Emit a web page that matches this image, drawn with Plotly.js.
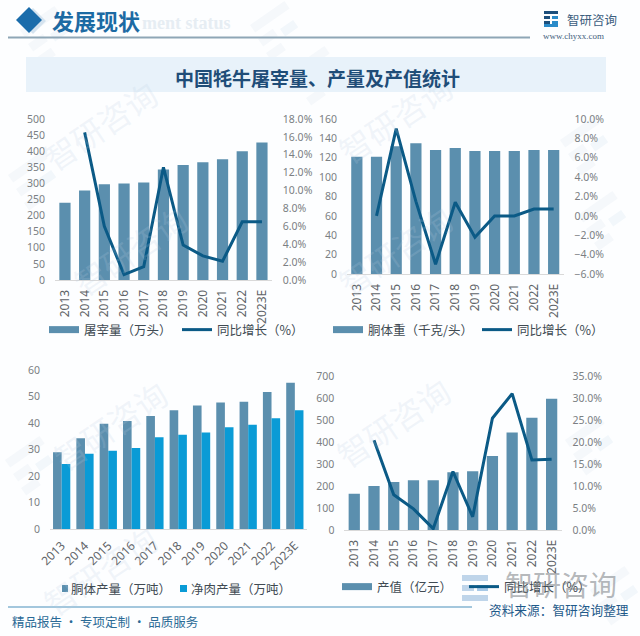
<!DOCTYPE html>
<html><head><meta charset="utf-8">
<script src="https://cdn.plot.ly/plotly-3.0.1.min.js"></script>
<style>html,body{margin:0;padding:0;background:#fff}#c{width:640px;height:636px}</style>
</head><body><div id="c"></div>
<script>
var years=['2013','2014','2015','2016','2017','2018','2019','2020','2021','2022','2023E'];
var slaughter=[240,278,297,300,303,343,357,366,375,400,427];
var slaughterGrowth=[null,16.5,6.0,0.6,1.5,12.6,3.9,2.7,2.1,6.5,6.5];
var carcassWeight=[121,121,132,135,128,130,127,127,127,128,128];
var weightGrowth=[null,0,9.0,1.5,-5.0,1.4,-2.2,0,0,0.7,0.7];
var carcassOutput=[29,34.2,39.7,40.8,42.6,44.8,46.6,47.7,48,51.7,55.2];
var netOutput=[24.5,28.4,29.5,30.6,34.6,35.6,36.4,38.4,39.3,41.8,44.8];
var outputValue=[165,200,218,226,226,263,267,336,443,510,597];
var valueGrowth=[null,20.4,8.0,4.8,0.3,13.3,3.0,25.4,31.0,15.9,16.1];

var W=640,H=636;
var BAR='#5b8fae',BAR2='#0a9bd6',LINE='#0b5a86',TXT='#7b7f83',LEG='#404a52';
var SANS='"Noto Sans CJK SC","Noto Sans",sans-serif';
var NUM='"Noto Sans","Noto Sans CJK SC",sans-serif';
function px(x){return x/W} function py(y){return 1-y/H}
function dom(a,b){return [px(a),px(b)]}
function vdom(top,bot){return [py(bot),py(top)]}

function xax(d,anchor,angle,extra){
  return Object.assign({domain:d,anchor:anchor,type:'category',categoryorder:'array',categoryarray:years,
    tickangle:angle,tickfont:{family:NUM,size:12,color:'#5f6468'},showgrid:false,zeroline:false,
    showline:true,linecolor:'#d9d9d9',linewidth:1,ticks:'',ticklabelstandoff:4,fixedrange:true},extra||{});
}
function yl(d,anchor,r,dt){
  return {domain:d,anchor:anchor,range:r,dtick:dt,tick0:0,showgrid:false,zeroline:false,showline:false,ticks:'',
    tickfont:{family:NUM,size:10.5,color:TXT},ticklabelstandoff:9,fixedrange:true};
}
function yr(over,anchor,r,dt){
  return {overlaying:over,anchor:anchor,side:'right',range:r,dtick:dt,tick0:r[0],showgrid:false,zeroline:false,showline:false,ticks:'',
    tickformat:'.1f',ticksuffix:'%',tickfont:{family:NUM,size:10.5,color:TXT},ticklabelstandoff:10,fixedrange:true};
}
function legendCfg(x,y,ew){
  return {x:px(x),y:py(y),xanchor:'left',yanchor:'middle',orientation:'h',bgcolor:'rgba(0,0,0,0)',
    font:{family:SANS,size:12.5,color:LEG},itemwidth:30,tracegroupgap:0,entrywidth:ew,entrywidthmode:'pixels',
    itemclick:false,itemdoubleclick:false};
}
function bar(name,vals,xa,ya,color,extra){
  return Object.assign({type:'bar',name:name,x:years,y:vals,xaxis:xa,yaxis:ya,marker:{color:color},showlegend:false},extra||{});
}
function barKey(name,xa,ya,leg,color){
  return {type:'scatter',mode:'lines',name:name,x:[null],y:[null],xaxis:xa,yaxis:ya,legend:leg,
    line:{color:color,width:7},hoverinfo:'skip'};
}
function growth(name,vals,xa,ya,leg){
  return {type:'scatter',mode:'lines',name:name,x:years,y:vals,xaxis:xa,yaxis:ya,legend:leg,
    line:{color:LINE,width:3},connectgaps:false};
}
var GROW='同比增长（%）';
var NAME_C='胴体产量（万吨）',NAME_N='净肉产量（万吨）';
var data=[
  bar('屠宰量（万头）',slaughter,'x','y',BAR),
  barKey('屠宰量（万头）','x','y','legend',BAR),
  growth(GROW,slaughterGrowth,'x','y2','legend'),
  bar('胴体重（千克/头）',carcassWeight,'x2','y3',BAR),
  barKey('胴体重（千克/头）','x2','y3','legend2',BAR),
  growth(GROW,weightGrowth,'x2','y4','legend2'),
  bar(NAME_C,carcassOutput,'x3','y5',BAR,{width:0.37,offset:-0.37}),
  bar(NAME_N,netOutput,'x3','y5',BAR2,{width:0.37,offset:0}),
  bar('产值（亿元）',outputValue,'x4','y6',BAR),
  barKey('产值（亿元）','x4','y6','legend4',BAR),
  growth(GROW,valueGrowth,'x4','y7','legend4')
];

function diamond(cx,cy,r,c){
  var p='M '+px(cx-r)+' '+py(cy)+' L '+px(cx)+' '+py(cy-r)+' L '+px(cx+r)+' '+py(cy)+' L '+px(cx)+' '+py(cy+r)+' Z';
  return {type:'path',xref:'paper',yref:'paper',path:p,fillcolor:c,line:{width:0},layer:'below'};
}
function logoBar(x,y,w,h,c){
  return {type:'rect',xref:'paper',yref:'paper',x0:px(x),x1:px(x+w),y0:py(y+h),y1:py(y),fillcolor:c,line:{width:0},layer:'below'};
}
function tiltedBar(cx,cy,len,th,c){
  var dx=len*0.82,dy=-len*0.57,nx=th*0.57,ny=th*0.82;
  var p='M '+px(cx)+' '+py(cy)+' L '+px(cx+dx)+' '+py(cy+dy)+' L '+px(cx+dx+nx)+' '+py(cy+dy+ny)+' L '+px(cx+nx)+' '+py(cy+ny)+' Z';
  return {type:'path',xref:'paper',yref:'paper',path:p,fillcolor:c,line:{width:0},layer:'below'};
}
function ghostLogo(x,y){
  var c='#f5f8fb';
  return [tiltedBar(x,y,42,9,c),tiltedBar(x+8,y+14,18,9,c),tiltedBar(x+16,y+28,18,9,c),tiltedBar(x+30,y+4,16,9,'#f2f7fb')];
}
var ghosts=[[8,175],[578,215],[5,460],[565,440],[590,590],[250,25],[20,30],[290,70],[560,140]];
var shapes=[];
ghosts.forEach(function(g){shapes=shapes.concat(ghostLogo(g[0],g[1]));});
shapes=shapes.concat([
  logoBar(26,57,580,35,'#e8f2fa'),
  {type:'line',xref:'paper',yref:'paper',x0:px(8),x1:px(530),y0:py(37.5),y1:py(37.5),line:{color:'#8ea6b6',width:2},layer:'below'},
  {type:'line',xref:'paper',yref:'paper',x0:px(8),x1:px(472),y0:py(607),y1:py(607),line:{color:'#4a90bb',width:1.2},layer:'below'},
  diamond(33,21,13,'#d5e3ef'),diamond(29,20,13,'#1a6cab'),
  logoBar(544,11,14,3,'#1c4f7c'),logoBar(544,16,6,3,'#1c4f7c'),logoBar(544,21,6,3,'#1c4f7c'),logoBar(552,16,6,3,'#2a8bc9'),logoBar(552,21,6,3,'#2a8bc9'),logoBar(544,24,14,3,'#2a8bc9'),
  logoBar(462,575,26,6,'rgba(150,185,220,.6)'),logoBar(462,585,12,6,'rgba(150,185,220,.6)'),logoBar(477,585,11,6,'rgba(110,165,215,.6)'),logoBar(462,595,26,6,'rgba(150,185,220,.6)'),
  logoBar(62,585,6,7,BAR),logoBar(180,585,7,7,BAR2)
]);
function note(text,x,y,size,color,opts){
  return Object.assign({text:text,xref:'paper',yref:'paper',x:px(x),y:py(y),xanchor:'left',yanchor:'middle',showarrow:false,
    font:{family:SANS,size:size,color:color}},opts||{});
}
var WM='rgba(185,205,225,.2)';
var marks=[[100,125],[395,118],[110,425],[393,422],[100,570],[395,250],[130,250]];
var annotations=marks.map(function(m){
  return note('智研咨询',m[0],m[1],32,WM,{xanchor:'center',textangle:-34});
}).concat([
  note('<b>发展现状</b>',50,20,22,'#1c6aa3'),
  note('<b>ment status</b>',140,23,15,'#e6edf3',{font:{family:'"Liberation Serif",serif',size:18,color:'#e6edf3'}}),
  note('智研咨询',565,19,12.5,'#3d5f7e'),
  note('www.chyxx.com',541,36,8.5,'#44627d',{font:{family:'"Liberation Serif",serif',size:9,color:'#44627d'}}),
  note('<b>中国牦牛屠宰量、产量及产值统计</b>',317,77,19,'#1f4d78',{xanchor:'center'}),
  note(NAME_C,69,588,12.5,LEG),
  note(NAME_N,189,588,12.5,LEG),
  note('智研咨询',503,584,28,'rgba(120,125,130,.55)'),
  note('资料来源：智研咨询整理',487,609,12.7,'#1f5a8a'),
  note('精品报告 · 专项定制 · 品质服务',10,621,12.5,'#2a6a96')
]);

var layout={
  width:W,height:H,margin:{l:0,r:0,t:0,b:0},paper_bgcolor:'#fdfeff',plot_bgcolor:'rgba(0,0,0,0)',
  barmode:'group',bargap:0.43,hovermode:false,
  xaxis:xax(dom(55.1,271.8),'y',-90),
  yaxis:yl(vdom(119,280),'x',[0,500],50),
  yaxis2:yr('y','x',[0,18],2),
  xaxis2:xax(dom(347,563.5),'y3',-90),
  yaxis3:yl(vdom(119,274),'x2',[0,160],20),
  yaxis4:yr('y3','x2',[-6,10],2),
  xaxis3:xax(dom(50,306.5),'y5',-45),
  yaxis5:yl(vdom(370,529),'x3',[0,60],10),
  xaxis4:xax(dom(344.4,561.5),'y6',-90),
  yaxis6:yl(vdom(376,530),'x4',[0,700],100),
  yaxis7:yr('y6','x4',[0,35],5),
  legend:legendCfg(44,330,88),
  legend2:legendCfg(328,330,104),
  legend3:{visible:false},
  legend4:legendCfg(337,587,82),
  shapes:shapes,annotations:annotations
};
Plotly.newPlot('c',data,layout,{displayModeBar:false,staticPlot:true});
</script></body></html>
